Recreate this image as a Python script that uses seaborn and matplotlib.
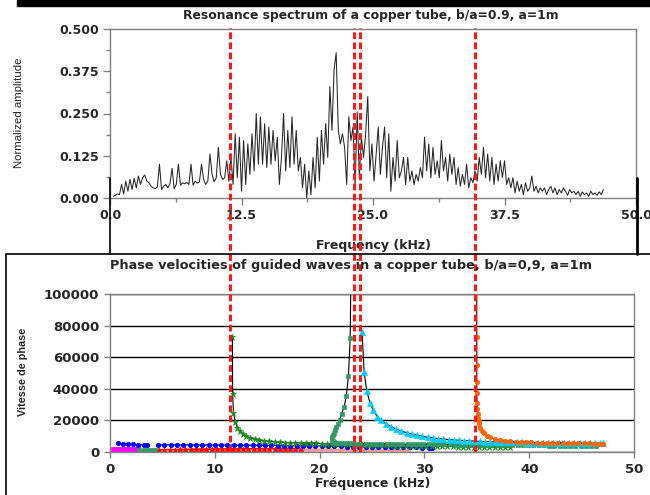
import numpy as np
import matplotlib
matplotlib.use("Agg")
import matplotlib.pyplot as plt
import seaborn as sns
from matplotlib.lines import Line2D
from matplotlib.patches import Rectangle
from matplotlib.ticker import MultipleLocator

sns.set_style("ticks")
plt.rcParams["font.family"] = ["DejaVu Sans"]

# =========================
# DATA - resonance spectrum (top)
# =========================
amp = [
    0.005, 0.008, 0.012, 0.010, 0.040,
    0.012, 0.050, 0.020, 0.055, 0.025,
    0.058, 0.030, 0.065, 0.040, 0.060,
    0.068, 0.050, 0.045, 0.035, 0.030,
    0.028, 0.032, 0.100, 0.025, 0.035,
    0.040, 0.030, 0.042, 0.088, 0.028,
    0.040, 0.100, 0.038, 0.045, 0.042,
    0.046, 0.040, 0.100, 0.038, 0.050,
    0.044, 0.048, 0.100, 0.055, 0.040,
    0.050, 0.130, 0.070, 0.048, 0.060,
    0.150, 0.070, 0.055, 0.060, 0.110,
    0.050, 0.120, 0.040, 0.190, 0.060,
    0.180, 0.020, 0.170, 0.040, 0.160,
    0.070, 0.190, 0.080, 0.250, 0.100,
    0.240, 0.100, 0.220, 0.090, 0.210,
    0.100, 0.200, 0.110, 0.180, 0.040,
    0.120, 0.250, 0.080, 0.200, 0.090,
    0.240, 0.100, 0.200, 0.080, 0.120,
    0.030, 0.100, 0.000, 0.080, 0.010,
    0.120, 0.030, 0.180, 0.050, 0.200,
    0.100, 0.220, 0.120, 0.330, 0.200,
    0.380, 0.430, 0.200, 0.160, 0.190,
    0.150, 0.040, 0.240, 0.170, 0.210,
    0.040, 0.255, 0.060, 0.180, 0.120,
    0.190, 0.300, 0.080, 0.160, 0.050,
    0.130, 0.210, 0.070, 0.150, 0.210,
    0.060, 0.190, 0.020, 0.120, 0.050,
    0.170, 0.060, 0.080, 0.120, 0.040,
    0.120, 0.050, 0.080, 0.040, 0.070,
    0.050, 0.090, 0.060, 0.180, 0.080,
    0.160, 0.060, 0.150, 0.070, 0.110,
    0.060, 0.170, 0.080, 0.120, 0.050,
    0.130, 0.070, 0.120, 0.040, 0.090,
    0.035, 0.070, 0.040, 0.100, 0.030,
    0.060, 0.045, 0.080, 0.050, 0.120,
    0.070, 0.150, 0.060, 0.130, 0.050,
    0.120, 0.040, 0.100, 0.050, 0.110,
    0.060, 0.110, 0.040, 0.060, 0.030,
    0.060, 0.015, 0.050, 0.020, 0.040,
    0.010, 0.045, 0.020, 0.030, 0.065,
    0.020, 0.035, 0.015, 0.030, 0.020,
    0.030, 0.010, 0.025, 0.035, 0.015,
    0.030, 0.010, 0.025, 0.015, 0.030,
    0.020, 0.008, 0.025, 0.015, 0.020,
    0.010, 0.020, 0.005, 0.018, 0.010,
    0.015, 0.005, 0.020, 0.010, 0.015,
    0.008, 0.018, 0.010, 0.025,
]
f_start, f_end = 0.3, 46.9
freq = np.linspace(f_start, f_end, len(amp))

top_xticks = [0, 12.5, 25, 37.5, 50]
top_xlabels = ["0.0", "12.5", "25.0", "37.5", "50.0"]
top_yticks = [0, 0.125, 0.25, 0.375, 0.5]
top_ylabels = ["0.000", "0.125", "0.250", "0.375", "0.500"]

# =========================
# DATA - phase velocities (bottom)
# =========================
magenta_x = [0.3, 0.6, 0.9, 1.2, 1.5, 1.8, 2.1, 2.4, 2.7]
magenta_y = [1800, 1800, 1800, 1800, 1800, 1800, 1800, 1800, 1800]

teal_x = [2.8, 3.2, 3.6, 4.0, 4.4]
teal_y = [1400, 1400, 1400, 1400, 1400]

red_x = [4.7, 5.2, 5.7, 6.2, 6.7, 7.2, 7.7, 8.2, 8.7, 9.2, 9.7, 10.2, 10.7, 11.2,
         11.7, 12.2, 12.7, 13.2, 13.7, 14.2, 14.7, 15.2, 15.7, 16.2, 16.7, 17.2, 17.7, 18.2]
red_y = [1400, 1450, 1500, 1550, 1600, 1650, 1700, 1750, 1800, 1800, 1850, 1850, 1900, 1900,
         1950, 1950, 2000, 2000, 2050, 2050, 2100, 2100, 2100, 2150, 2150, 2200, 2200, 2200]

pink_x = [16.0, 17.0, 18.0, 19.0, 20.0, 21.0, 22.0, 23.0, 24.0, 25.0, 26.0, 27.0, 28.0, 28.5]
pink_y = [1300, 1300, 1250, 1250, 1200, 1200, 1150, 1150, 1100, 1100, 1050, 1050, 1000, 1000]

blue1_x = [0.8, 1.2, 1.7, 2.2, 2.7, 3.2, 3.5]
blue1_y = [6000, 5000, 4900, 4800, 4600, 4500, 4500]

blue2_x = [4.6, 5.2, 5.8, 6.4, 7.0, 7.6, 8.2, 8.8, 9.4, 10.0, 10.6, 11.2, 11.8, 12.4, 13.0,
           13.6, 14.2, 14.8, 15.4, 16.0, 16.6, 17.2, 17.8, 18.4, 19.0, 19.6, 20.2, 20.8,
           21.4, 22.0, 22.6, 23.2, 23.8, 24.4, 25.0, 25.6, 26.2, 26.8, 27.4, 28.0, 28.6,
           29.2, 29.8, 30.4, 30.7]
blue2_y = [4500, 4500, 4500, 4500, 4500, 4450, 4450, 4450, 4400, 4400, 4400, 4350, 4350, 4300,
           4300, 4250, 4200, 4200, 4150, 4100, 4050, 4000, 3950, 3900, 3850, 3800, 3750, 3650,
           3600, 3500, 3450, 3400, 3350, 3300, 3250, 3200, 3150, 3100, 3000, 2950, 2900, 2850,
           2800, 2750, 2700]

green_x = [11.68, 11.70, 11.78, 11.95, 12.15, 12.4, 12.7, 13.0, 13.4, 13.8,
           14.2, 14.7, 15.2, 15.7, 16.2, 16.7, 17.2, 17.7, 18.2, 18.7, 19.2, 19.7, 20.2,
           20.7, 21.2, 21.7, 22.2, 22.7, 23.2, 23.7, 24.2, 24.7, 25.2, 25.7, 26.2, 26.7,
           27.2, 27.7, 28.2, 28.7, 29.2, 29.7, 30.2, 30.7, 31.2, 31.7, 32.2, 32.7, 33.2,
           33.7, 34.2, 34.7, 35.2, 35.7, 36.2, 36.7, 37.2, 37.7, 38.2]
green_y = [73000, 37000, 25000, 19300, 15500, 13000, 11300, 9900, 8800, 8100,
           7500, 7000, 6700, 6400, 6200, 6000, 5900, 5800, 5700, 5600, 5500, 5400, 5300,
           5200, 5100, 5000, 4900, 4800, 4700, 4600, 4500, 4400, 4300, 4250, 4200, 4150,
           4100, 4000, 3950, 3900, 3850, 3800, 3750, 3700, 3650, 3600, 3550, 3500, 3450,
           3400, 3350, 3300, 3250, 3200, 3150, 3100, 3050, 3000, 3000]

seagreen_x = [23.02, 22.92, 22.75, 22.55, 22.35, 22.1, 21.9, 21.75, 21.6, 21.45, 21.35,
              21.28, 21.22, 21.2, 21.2, 21.25, 21.35, 21.5, 21.7, 22.0, 22.4, 22.9,
              23.4, 23.9, 24.4, 24.9, 25.4, 25.9, 26.4, 26.9, 27.4, 27.9, 28.4, 28.9,
              29.4, 29.9, 30.4, 30.9, 31.4, 31.9, 32.4, 32.9, 33.4, 33.9, 34.4, 34.9,
              35.4, 35.9, 36.4, 36.9, 37.4, 37.9, 38.4, 38.9, 39.4, 39.9, 40.4, 40.9,
              41.4, 41.9, 42.4, 42.9, 43.4, 43.9, 44.4, 44.9, 45.4, 45.9, 46.4]
seagreen_y = [130000, 72300, 48000, 35600, 28700, 24100, 20300, 18000, 16100, 13800, 12000,
              10900, 9800, 8800, 7800, 7000, 6400, 6000, 5800, 5600, 5500, 5400,
              5350, 5300, 5250, 5200, 5150, 5100, 5080, 5050, 5000, 4980, 4950, 4920,
              4900, 4870, 4850, 4820, 4800, 4770, 4750, 4720, 4700, 4670, 4650, 4620,
              4600, 4560, 4520, 4480, 4450, 4420, 4380, 4340, 4300, 4260, 4220, 4180,
              4140, 4100, 4060, 4020, 3980, 3950, 3920, 3890, 3860, 3830, 3800]

cyan_x = [24.05, 24.25, 24.5, 24.8, 25.1, 25.5, 25.9, 26.3, 26.8, 27.3, 27.8, 28.3, 28.8,
          29.3, 29.8, 30.3, 30.8, 31.3, 31.8, 32.3, 32.8, 33.3, 33.8, 34.3, 34.8, 35.3,
          35.8, 36.3, 36.8, 37.3, 37.8, 38.3, 38.8, 39.3, 39.8, 40.3, 40.8, 41.3, 41.8,
          42.3, 42.8, 43.3, 43.8, 44.3, 44.8, 45.3, 45.8, 46.3, 46.8, 47.0]
cyan_y = [76000, 50700, 38600, 31200, 26600, 22400, 20000, 18000, 16100, 14500, 13300,
          12200, 11300, 10500, 9900, 9300, 8900, 8500, 8200, 7900, 7650, 7450, 7250, 7050,
          6900, 6750, 6600, 6500, 6400, 6300, 6200, 6150, 6100, 6050, 6000, 5950, 5900,
          5850, 5800, 5780, 5750, 5720, 5700, 5680, 5650, 5620, 5600, 5580, 5550, 5500]

orange_x = [34.98, 35.0, 35.0, 35.0, 35.0, 35.02, 35.05, 35.08, 35.12, 35.18, 35.25, 35.35,
            35.5, 35.7, 35.95, 36.3, 36.7, 37.2, 37.7, 38.2, 38.7, 39.2, 39.7, 40.2, 40.7,
            41.2, 41.7, 42.2, 42.7, 43.2, 43.7, 44.2, 44.7, 45.2, 45.7, 46.2, 46.7, 47.0]
orange_y = [130000, 73000, 55000, 44000, 37100, 31200, 27000, 24000, 21500, 19500, 17500,
            15500, 13500, 11800, 10300, 9200, 8300, 7700, 7200, 6900, 6600, 6400, 6200,
            6100, 6000, 5900, 5800, 5750, 5700, 5650, 5600, 5550, 5500, 5450, 5400, 5350,
            5300, 5250]

# cut-off frequencies marked with red dashed lines
cutoff_freqs = [11.45, 23.3, 23.9, 34.83]

bot_xticks = [0, 10, 20, 30, 40, 50]
bot_yticks = [0, 20000, 40000, 60000, 80000, 100000]

# =========================
# FIGURE
# =========================
W, H = 650, 495
fig = plt.figure(figsize=(6.5, 4.95), dpi=100)


def fx(px):
    return px / W


def fy(py):
    return 1 - py / H


GREY = "#808080"

# ---- top : resonance spectrum
ax1 = fig.add_axes([fx(110), fy(198), (636 - 110) / W, (198 - 29) / H])
sns.lineplot(x=freq, y=amp, color="#262626", lw=0.75, estimator=None, ax=ax1)
ax1.set_xlim(0, 50)
ax1.set_ylim(0, 0.5)
ax1.set_xticks(top_xticks)
ax1.set_xticklabels(top_xlabels, fontweight="bold", fontsize=9)
ax1.set_yticks(top_yticks)
ax1.set_yticklabels(top_ylabels, fontweight="bold", fontsize=9)
ax1.xaxis.set_minor_locator(MultipleLocator(6.25))
ax1.yaxis.set_minor_locator(MultipleLocator(0.0625))
ax1.tick_params(which="major", direction="out", length=5, width=1, color=GREY, pad=3)
ax1.tick_params(which="minor", direction="out", length=3, width=1, color=GREY)
for s in ax1.spines.values():
    s.set_color(GREY)
    s.set_linewidth(1)
ax1.set_ylabel("Normalized amplitude", fontfamily="Liberation Sans", fontsize=8.2)
ax1.yaxis.set_label_coords(-0.163, 0.503)
ax1.set_xlabel("Frequency (kHz)", fontweight="bold", fontsize=9)
ax1.xaxis.set_label_coords(0.5, -0.243)

fig.text(fx(371), fy(15), "Resonance spectrum of a copper tube, b/a=0.9, a=1m",
         ha="center", va="center", fontweight="bold", fontsize=8.9)

# ---- bottom : phase velocities
ax2 = fig.add_axes([fx(110), fy(452), 524 / W, 158 / H])


def series(x, y, color, marker, ms, line_color=None, lw=0.8):
    sns.lineplot(x=x, y=y, ax=ax2, sort=False, estimator=None,
                 color=line_color or color, lw=lw, marker=marker, ms=ms,
                 mfc=color, mec=color, mew=0.5)


series(magenta_x, magenta_y, "#FF00FF", "s", 2.5, lw=2.5)
series(teal_x, teal_y, "#339966", "s", 2.2, lw=1)
series(pink_x, pink_y, "#FF9999", "o", 2, lw=2)
series(red_x, red_y, "#FF0000", "^", 3.2, lw=1.2)
series(blue1_x, blue1_y, "#0000FF", "o", 3.2, lw=1)
series(blue2_x, blue2_y, "#0000FF", "o", 3.2, lw=1)
series(green_x, green_y, "#1E8C1E", "*", 5, line_color="black", lw=0.8)
series(seagreen_x, seagreen_y, "#339966", "s", 3.2, line_color="black", lw=0.8)
series(cyan_x, cyan_y, "#00CCFF", "^", 3.8, line_color="black", lw=0.8)
series(orange_x, orange_y, "#FF6600", "o", 3.2, line_color="black", lw=0.8)

ax2.set_xlim(0, 50)
ax2.set_ylim(0, 100000)
ax2.set_xticks(bot_xticks)
ax2.set_xticklabels([str(v) for v in bot_xticks], fontweight="bold", fontsize=9.5)
ax2.set_yticks(bot_yticks)
ax2.set_yticklabels([str(v) for v in bot_yticks], fontweight="bold", fontsize=9.5)
ax2.yaxis.grid(True, color="black", lw=1)
ax2.set_axisbelow(True)
ax2.tick_params(direction="out", length=4.3, width=1, color=GREY, pad=3.5)
for s in ax2.spines.values():
    s.set_color(GREY)
    s.set_linewidth(1)
ax2.set_ylabel("Vitesse de phase", fontfamily="Liberation Sans", fontweight="bold",
               fontsize=7.8)
ax2.yaxis.set_label_coords(-0.157, 0.506)
ax2.set_xlabel("Fréquence (kHz)", fontweight="bold", fontsize=9)
ax2.xaxis.set_label_coords(0.502, -0.158)

fig.text(fx(351), fy(266),
         "Phase velocities of guided waves in a copper tube, b/a=0,9, a=1m",
         ha="center", va="center", fontweight="bold", fontsize=9.3)

# ---- red dashed cut-off lines crossing both panels
ax3 = fig.add_axes([fx(110), fy(452), 524 / W, (452 - 28) / H])
ax3.set_xlim(0, 50)
ax3.set_ylim(0, 1)
ax3.axis("off")
for f in cutoff_freqs:
    ax3.axvline(f, color="#FF1A1A", lw=2.2, ls=(0, (2.2, 1.1)))

# ---- frame decorations of the composite
fig.add_artist(Rectangle((fx(17), fy(6)), 1, 6 / H, color="black"))
fig.add_artist(Rectangle((fx(6), -0.05), 1.0, fy(254) + 0.05, fill=False,
                         edgecolor="black", lw=1.2))
fig.add_artist(Line2D([fx(110), fx(110)], [fy(178), fy(254)], color="black", lw=1.2))
fig.add_artist(Line2D([fx(636.5), fx(636.5)], [fy(178), fy(254)], color="black", lw=2))

fig.savefig("out.png", dpi=100)
